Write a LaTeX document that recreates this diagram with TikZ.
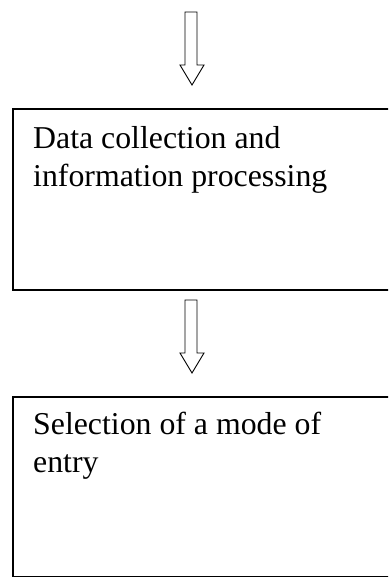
\documentclass[tikz,border=0pt]{standalone}
\usepackage{fontspec}
\setmainfont{Liberation Serif}
\begin{document}
\begin{tikzpicture}[x=1pt,y=-1pt,
  stagebox/.style={draw=black, line width=1.8pt, rectangle, anchor=north west,
    minimum width=420pt, minimum height=181pt, inner sep=0pt},
  stagetext/.style={anchor=north west, inner sep=0pt, align=left,
    font=\fontsize{31.8}{38}\selectfont},
  blockarrow/.style={draw=black, line width=0.9pt, fill=white, line join=miter},
  pics/downarrow/.style={code={
    \draw[blockarrow] (-6,0) -- (6,0) -- (6,53) -- (13,53) -- (1,73) -- (-11,53) -- (-6,53) -- cycle;
  }}]
  \useasboundingbox (0,0) rectangle (388,577);
  \clip (0,0) rectangle (388,577);

  % first stage
  \node[stagebox] (box1) at (12,108) {};
  \node[stagetext] (text1) at ([xshift=21pt,yshift=-18.5pt]box1.north west)
    {Data collection and\\information processing};

  % second stage
  \node[stagebox, minimum height=180pt] (box2) at (12,396) {};
  \node[stagetext] (text2) at ([xshift=21pt,yshift=-15.5pt]box2.north west)
    {Selection of a mode of\\entry};

  % hollow block arrows leading into each stage
  \coordinate (arrow1) at (191,12);
  \coordinate (arrow2) at (191,300);
  \pic at (arrow1) {downarrow};
  \pic at (arrow2) {downarrow};
\end{tikzpicture}
\end{document}
